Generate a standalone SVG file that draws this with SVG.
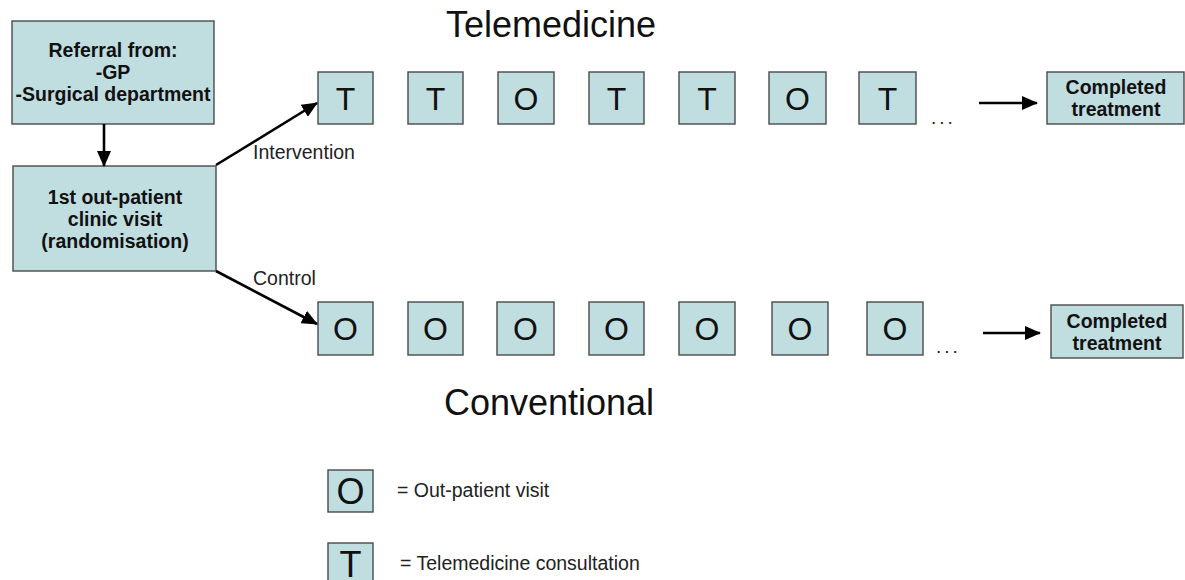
<svg xmlns="http://www.w3.org/2000/svg" width="1185" height="580" viewBox="0 0 1185 580">
  <style>
    .box { fill: #c0dde0; stroke: #4a4a4a; stroke-width: 1.4; }
    .bold { font-family: "Liberation Sans", Arial, sans-serif; font-weight: bold; font-size: 19.5px; fill: #111; text-anchor: middle; }
    .lbl { font-family: "Liberation Sans", Arial, sans-serif; font-size: 19.5px; fill: #222; }
    .dots { font-family: "Liberation Sans", Arial, sans-serif; font-size: 19px; fill: #222; letter-spacing: 3px; }
    .title { font-family: "Liberation Sans", Arial, sans-serif; font-size: 36px; fill: #111; text-anchor: middle; }
    .sym { font-family: "Liberation Sans", Arial, sans-serif; font-size: 32px; fill: #111; text-anchor: middle; }
    .legsym { font-family: "Liberation Sans", Arial, sans-serif; font-size: 36px; fill: #111; text-anchor: middle; }
    .conn { stroke: #000; stroke-width: 2.6; fill: none; marker-end: url(#arrow); }
  </style>
  <defs>
    <marker id="arrow" markerUnits="userSpaceOnUse" markerWidth="16" markerHeight="14" refX="15" refY="7" orient="auto">
      <path d="M0,0 L16,7 L0,14 Z" fill="#000"/>
    </marker>
  </defs>
  <rect width="1185" height="580" fill="#fff"/>

  <!-- section titles -->
  <text class="title" x="551" y="37">Telemedicine</text>
  <text class="title" x="549" y="415">Conventional</text>

  <g id="referral">
    <rect class="box" x="12" y="21" width="202" height="103"/>
    <text class="bold" x="113" y="57">Referral from:</text>
    <text class="bold" x="113" y="79">-GP</text>
    <text class="bold" x="113" y="101">-Surgical department</text>
  </g>

  <g id="first-visit">
    <rect class="box" x="13" y="166" width="203" height="105"/>
    <text class="bold" x="115" y="204">1st out-patient</text>
    <text class="bold" x="115" y="226">clinic visit</text>
    <text class="bold" x="115" y="248">(randomisation)</text>
  </g>

  <!-- telemedicine arm -->
  <g id="tele-1"><rect class="box" x="318" y="72" width="55" height="52"/><text class="sym" x="345.5" y="110">T</text></g>
  <g id="tele-2"><rect class="box" x="408" y="72" width="55" height="52"/><text class="sym" x="435.5" y="110">T</text></g>
  <g id="tele-3"><rect class="box" x="498" y="72" width="56" height="52"/><text class="sym" x="526" y="110">O</text></g>
  <g id="tele-4"><rect class="box" x="589" y="72" width="55" height="52"/><text class="sym" x="616.5" y="110">T</text></g>
  <g id="tele-5"><rect class="box" x="679" y="72" width="56" height="52"/><text class="sym" x="707" y="110">T</text></g>
  <g id="tele-6"><rect class="box" x="769" y="72" width="57" height="52"/><text class="sym" x="797.5" y="110">O</text></g>
  <g id="tele-7"><rect class="box" x="859" y="72" width="57" height="52"/><text class="sym" x="887.5" y="110">T</text></g>
  <g id="tele-dots"><text class="dots" x="931" y="124">...</text></g>
  <g id="tele-done">
    <rect class="box" x="1047" y="72" width="137" height="52"/>
    <text class="bold" x="1116" y="94">Completed</text>
    <text class="bold" x="1116" y="116">treatment</text>
  </g>

  <!-- conventional arm -->
  <g id="conv-1"><rect class="box" x="318" y="302" width="55" height="53"/><text class="sym" x="345.5" y="340">O</text></g>
  <g id="conv-2"><rect class="box" x="408" y="302" width="55" height="53"/><text class="sym" x="435.5" y="340">O</text></g>
  <g id="conv-3"><rect class="box" x="497" y="302" width="57" height="53"/><text class="sym" x="525.5" y="340">O</text></g>
  <g id="conv-4"><rect class="box" x="589" y="302" width="55" height="53"/><text class="sym" x="616.5" y="340">O</text></g>
  <g id="conv-5"><rect class="box" x="679" y="302" width="56" height="53"/><text class="sym" x="707" y="340">O</text></g>
  <g id="conv-6"><rect class="box" x="772" y="302" width="56" height="53"/><text class="sym" x="800" y="340">O</text></g>
  <g id="conv-7"><rect class="box" x="867" y="302" width="56" height="53"/><text class="sym" x="895" y="340">O</text></g>
  <g id="conv-dots"><text class="dots" x="936" y="353">...</text></g>
  <g id="conv-done">
    <rect class="box" x="1051" y="305" width="132" height="53"/>
    <text class="bold" x="1117" y="328">Completed</text>
    <text class="bold" x="1117" y="350">treatment</text>
  </g>

  <g id="connectors">
    <line class="conn" x1="104" y1="124" x2="104" y2="166"/>
    <line class="conn" x1="216" y1="165" x2="317" y2="103"/>
    <line class="conn" x1="216" y1="271" x2="317" y2="324"/>
    <line class="conn" x1="979" y1="103" x2="1037" y2="103"/>
    <line class="conn" x1="983" y1="333" x2="1040" y2="333"/>
    <text class="lbl" x="253" y="159">Intervention</text>
    <text class="lbl" x="253" y="285">Control</text>
  </g>

  <!-- key -->
  <g id="legend-o">
    <rect class="box" x="328" y="470" width="45" height="42"/>
    <text class="legsym" x="350.5" y="504">O</text>
    <text class="lbl" x="397" y="497">= Out-patient visit</text>
  </g>
  <g id="legend-t">
    <rect class="box" x="328" y="543" width="45" height="44"/>
    <text class="legsym" x="350.5" y="577">T</text>
    <text class="lbl" x="400" y="570">= Telemedicine consultation</text>
  </g>
</svg>
